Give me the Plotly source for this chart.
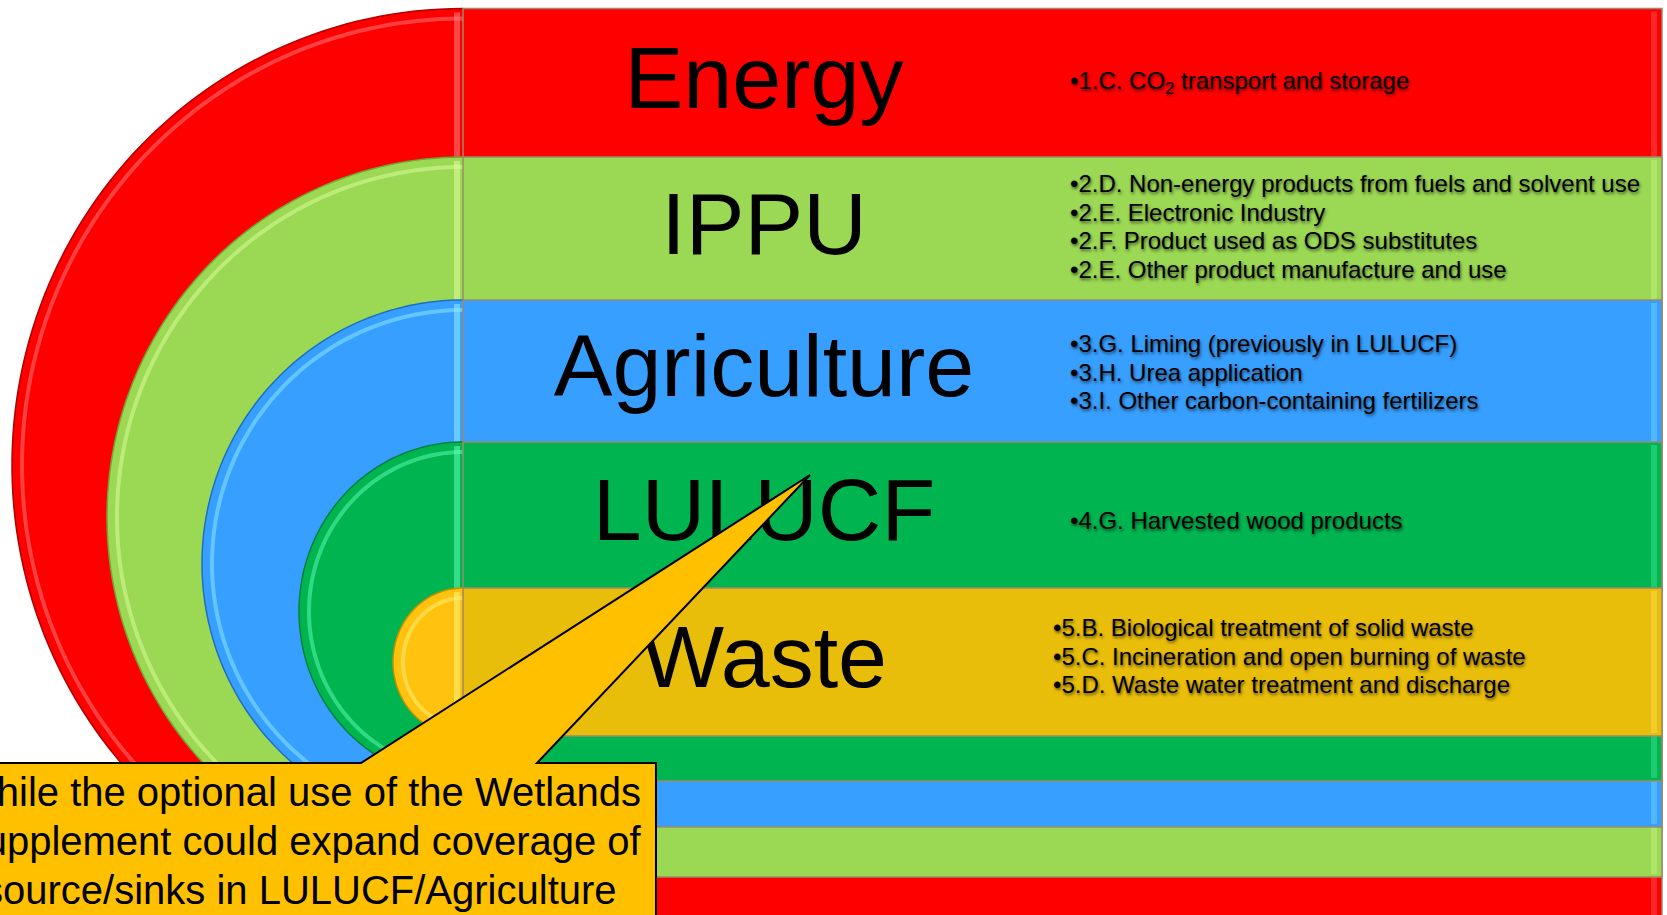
import numpy as np
import plotly.graph_objects as go

# ---------------- data ----------------
categories = ["Energy", "IPPU", "Agriculture", "LULUCF", "Waste"]
items = [
    ["1.C. CO<sub>2</sub> transport and storage"],
    ["2.D. Non-energy products from fuels and solvent use",
     "2.E. Electronic Industry",
     "2.F. Product used as ODS substitutes",
     "2.E. Other product manufacture and use"],
    ["3.G. Liming (previously in LULUCF)",
     "3.H. Urea application",
     "3.I. Other carbon-containing fertilizers"],
    ["4.G. Harvested wood products"],
    ["5.B. Biological treatment of solid waste",
     "5.C. Incineration and open burning of waste",
     "5.D. Waste water treatment and discharge"],
]
callout_lines = ["While the optional use of the Wetlands",
                 "Supplement could expand coverage of",
                 "source/sinks in LULUCF/Agriculture"]

# ---------------- geometry / style ----------------
W, H = 1667, 915
X_DIV = 463
X_RIGHT = 1662
tops = [8.5, 157, 300, 442, 588]
bottoms = [922, 877, 827, 781, 736]
radii_x = [451, 356, 261, 164, 70]
item_x = [1068, 1068, 1068, 1068, 1051]
item_dy = [0, -2, 1, 5, -6]
rect_fill = ["#FF0000", "#9BD853", "#379FFF", "#00B550", "#E9BE0A"]
arc_fill = ["#FF0000", "#9BD853", "#379FFF", "#00B550", "#FFC20E"]
edge_col = ["#B00000", "#6FA832", "#1F6FC0", "#00803A", "#C89000"]
hi_col = ["#FF8080", "#E0FFA0", "#90EEFF", "#60FFB8", "#FFF27A"]
FONT = "Liberation Sans, Arial, sans-serif"

shapes = []


def arc_points(cx, cy, rx, ry, n=120):
    t = np.linspace(-np.pi / 2, np.pi / 2, n)
    return cx - rx * np.cos(t), cy + ry * np.sin(t)


def path_from(xs, ys, close=True):
    s = "M " + " L ".join(f"{x:.2f},{y:.2f}" for x, y in zip(xs, ys))
    return s + (" Z" if close else "")


for i in range(len(categories)):
    top, bot, rx = tops[i], bottoms[i], radii_x[i]
    cy = (top + bot) / 2
    ry = (bot - top) / 2
    # semicircle part
    xs, ys = arc_points(X_DIV, cy, rx, ry)
    shapes.append(dict(type="path", path=path_from(xs, ys), fillcolor=arc_fill[i],
                       line=dict(width=0), layer="below"))
    # highlight inner arc (bevel)
    xs2, ys2 = arc_points(X_DIV, cy, max(rx - 10, 2), max(ry - 10, 2))
    shapes.append(dict(type="path", path=path_from(xs2, ys2, close=False),
                       line=dict(color=hi_col[i], width=4), opacity=0.5, layer="below"))
    # outer dark edge
    shapes.append(dict(type="path", path=path_from(xs, ys, close=False),
                       line=dict(color=edge_col[i], width=1.5), layer="below"))
    # bevel strip next to divider
    shapes.append(dict(type="line", x0=X_DIV - 6, x1=X_DIV - 6, y0=top + 4, y1=bot - 4,
                       line=dict(color=hi_col[i], width=6), opacity=0.55, layer="below"))
    # rectangle part
    shapes.append(dict(type="rect", x0=X_DIV, x1=X_RIGHT, y0=top, y1=bot,
                       fillcolor=rect_fill[i], line=dict(color="#9C8A6C", width=1.5),
                       layer="below"))
    # right bevel strip
    shapes.append(dict(type="line", x0=X_RIGHT - 8, x1=X_RIGHT - 8, y0=top + 3, y1=bot - 3,
                       line=dict(color=hi_col[i], width=6), opacity=0.3, layer="below"))

# callout
CALL_TOP = 763
CALL_RIGHT = 656
tip = (810, 475)
base_l, base_r = 361, 537
callout_path = (f"M -30,{H + 40} L -30,{CALL_TOP} L {base_l},{CALL_TOP} L {tip[0]},{tip[1]} "
                f"L {base_r},{CALL_TOP} L {CALL_RIGHT},{CALL_TOP} L {CALL_RIGHT},{H + 40} Z")
shapes.append(dict(type="path", path=callout_path, fillcolor="#FFC000",
                   line=dict(color="black", width=2), layer="above"))

# ---------------- figure ----------------
fig = go.Figure()

band_centers = []
for i in range(len(categories)):
    nxt = tops[i + 1] if i + 1 < len(tops) else bottoms[i]
    band_centers.append((tops[i] + nxt) / 2)

fig.add_trace(go.Scatter(
    x=[764] * len(categories), y=[c + 3 for c in band_centers],
    mode="text", text=categories, textposition="middle center",
    textfont=dict(family=FONT, size=88, color="black"),
    hoverinfo="skip", cliponaxis=False))

annotations = []
LINE_SP = 28.7
for i, lines in enumerate(items):
    n = len(lines)
    for j, txt in enumerate(lines):
        y = band_centers[i] + item_dy[i] + (j - (n - 1) / 2) * LINE_SP
        annotations.append(dict(
            x=item_x[i], y=y, xref="x", yref="y", text="•" + txt, showarrow=False,
            xanchor="left", yanchor="middle",
            font=dict(family=FONT, size=24, color="black",
                      shadow="1px 2px 3px rgba(0,0,0,0.55)")))

CALL_SP = 49
for j, txt in enumerate(callout_lines):
    annotations.append(dict(
        x=300, y=792 + j * CALL_SP, xref="x", yref="y", text=txt, showarrow=False,
        xanchor="center", yanchor="middle",
        font=dict(family=FONT, size=40, color="black")))

fig.update_layout(
    width=W, height=H, margin=dict(l=0, r=0, t=0, b=0),
    paper_bgcolor="white", plot_bgcolor="white", showlegend=False,
    xaxis=dict(range=[0, W], visible=False, fixedrange=True),
    yaxis=dict(range=[H, 0], visible=False, fixedrange=True),
    shapes=shapes, annotations=annotations,
)

fig.write_html("out.html", config={"displayModeBar": False},
               post_script="document.body.style.margin='0';document.body.style.overflow='hidden';")
